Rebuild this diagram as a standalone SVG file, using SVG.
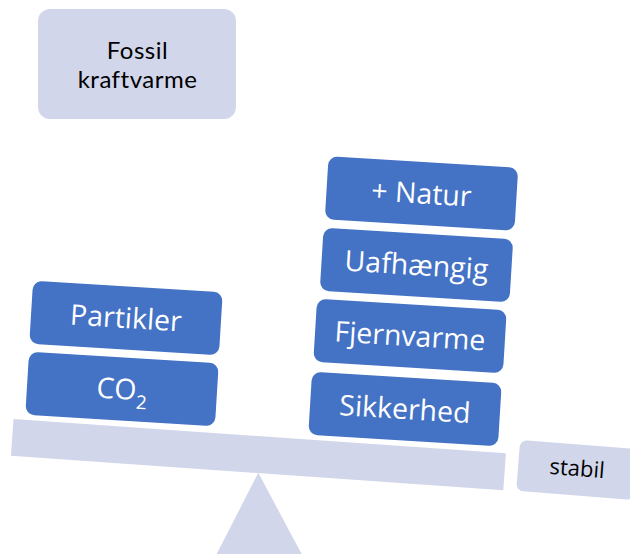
<svg xmlns="http://www.w3.org/2000/svg" width="630" height="554" viewBox="0 0 630 554">
  <style>
    .light { fill: #D1D6EA; }
    .blue { fill: #4472C4; }
    .wt { fill: #FFFFFF; font-family: "Open Sans", "Noto Sans", sans-serif; font-size: 28.5px; text-anchor: middle; }
    .bt { fill: #000000; font-family: "Open Sans", "Noto Sans", sans-serif; text-anchor: middle; }
    .ft { fill: #000000; font-family: Lato, "Open Sans", sans-serif; font-size: 24px; letter-spacing: 0.5px; text-anchor: middle; }
  </style>
  <defs>
    <rect id="blk" x="-95" y="-31.5" width="190" height="63" rx="9" ry="9"/>
  </defs>
  <rect width="630" height="554" fill="#FFFFFF"/>

  <g id="fulcrum">
    <polygon class="light" points="258.3,472.7 213.6,560 304.8,560"/>
  </g>
  <g id="beam">
    <rect class="light" x="-246.8" y="-18.5" width="493.6" height="37" transform="translate(258.4,454.6) rotate(4)"/>
  </g>

  <g id="fossil-kraftvarme">
    <rect class="light" x="38" y="9" width="198" height="110" rx="12" ry="12"/>
    <text class="ft" x="137.5" y="59">Fossil</text>
    <text class="ft" x="137.5" y="88">kraftvarme</text>
  </g>

  <g id="partikler" transform="translate(126,318) rotate(3.5)">
    <use href="#blk" class="blue"/>
    <text class="wt" x="0" y="10">Partikler</text>
  </g>
  <g id="co2" transform="translate(122,389) rotate(3.5)">
    <use href="#blk" class="blue"/>
    <text class="wt" x="0" y="10">CO<tspan font-size="19" dy="9">2</tspan></text>
  </g>

  <g id="natur" transform="translate(421.5,193.5) rotate(3.5)">
    <use href="#blk" class="blue"/>
    <text class="wt" x="0" y="10">+ Natur</text>
  </g>
  <g id="uafhaengig" transform="translate(416.5,265) rotate(3.5)">
    <use href="#blk" class="blue"/>
    <text class="wt" x="0" y="10">Uafhængig</text>
  </g>
  <g id="fjernvarme" transform="translate(410,336) rotate(3.5)">
    <use href="#blk" class="blue"/>
    <text class="wt" x="0" y="10">Fjernvarme</text>
  </g>
  <g id="sikkerhed" transform="translate(405,409) rotate(3.5)">
    <use href="#blk" class="blue"/>
    <text class="wt" x="0" y="10">Sikkerhed</text>
  </g>

  <g id="stabil" transform="translate(577,470) rotate(4.5)">
    <rect class="light" x="-59" y="-25.5" width="118" height="51" rx="7" ry="7"/>
    <text class="bt" font-size="22" x="0" y="6">stabil</text>
  </g>

  <g id="connectors"></g>
</svg>
